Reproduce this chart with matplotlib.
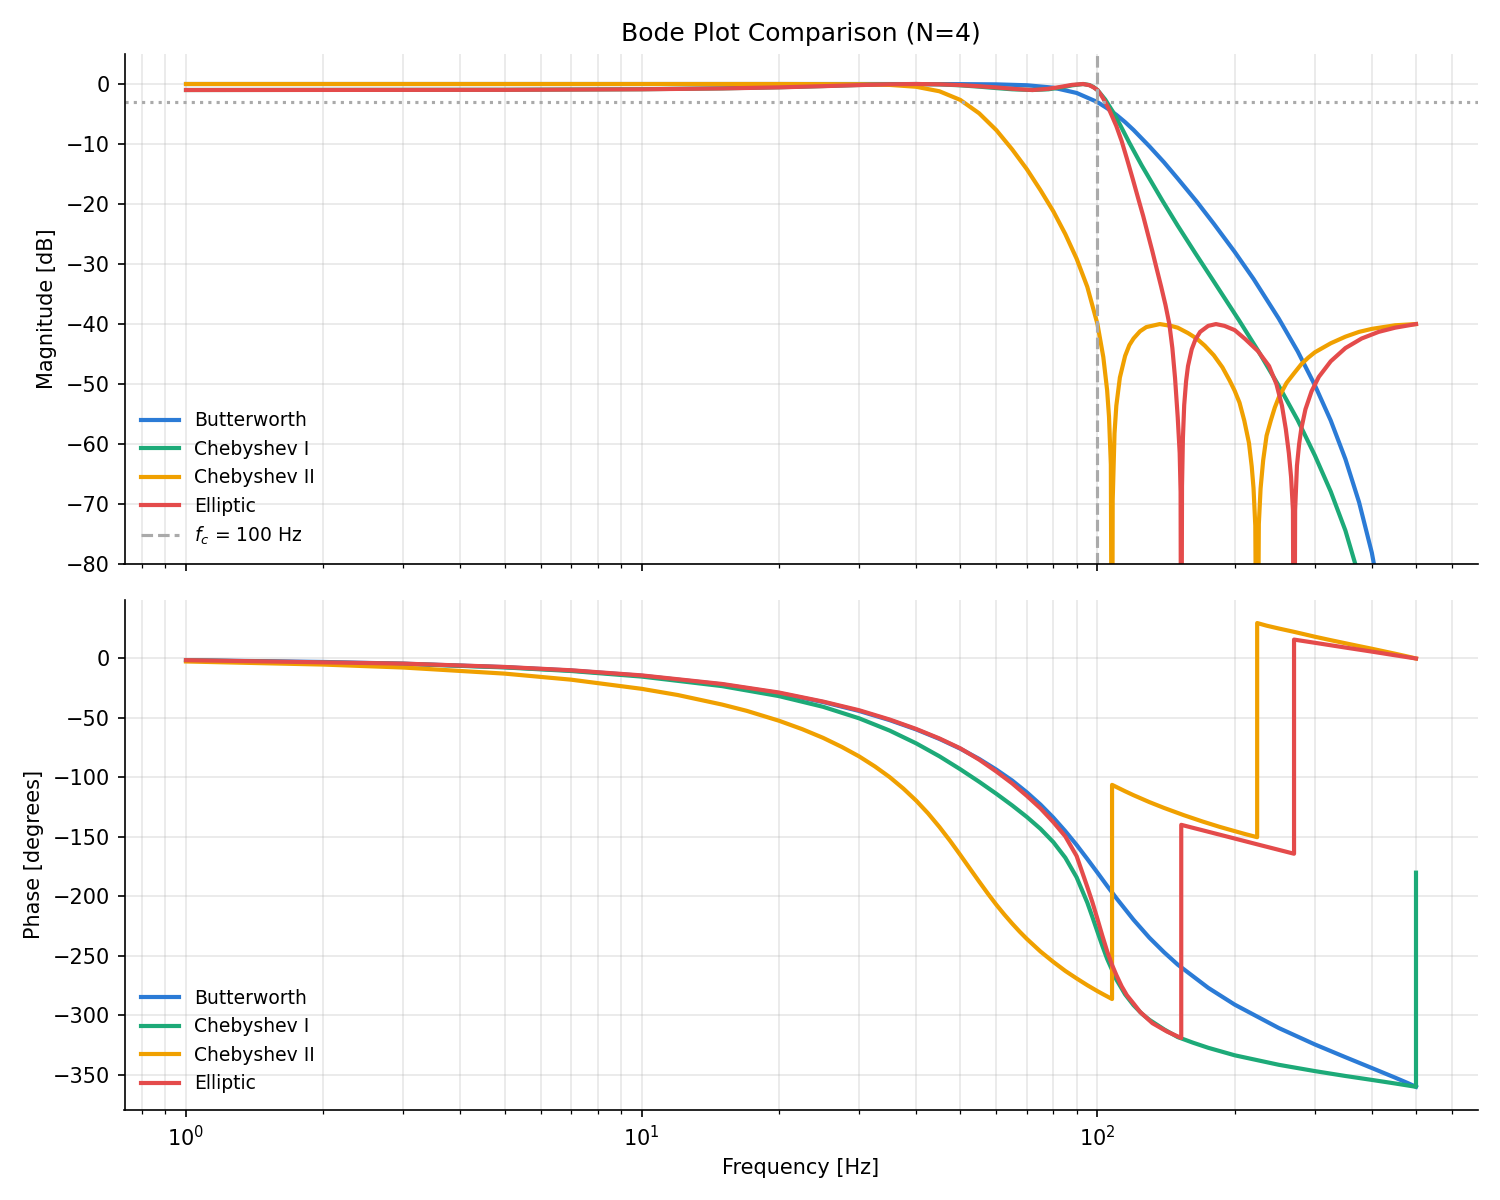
import numpy as np
import matplotlib
matplotlib.use("Agg")
import matplotlib.pyplot as plt

# magnitude curves [Hz], [dB]
f_butter_mag = [1, 10, 30, 50, 60, 70, 80, 90, 100, 105, 110, 115, 120, 130, 140, 150, 165, 180,
                200, 220, 250, 275, 300, 325, 350, 375, 400, 410]
butter_mag = [0, 0, 0, -0.02, -0.06, -0.21, -0.61, -1.49, -3.01, -4.04, -5.13, -6.35, -7.66, -10.38,
              -13.05, -15.75, -19.56, -23.28, -27.96, -32.47, -39.1, -44.54, -50.2, -56.07, -62.5,
              -69.68, -78.1, -82.5]

f_cheb1_mag = [1, 5, 10, 15, 20, 25, 30, 35, 40, 45, 50, 55, 60, 65, 72, 78, 83, 88, 93, 96, 98, 100,
               104, 108, 112, 117.5, 125, 139, 150, 164, 180, 204.6, 225, 250, 275, 300, 325, 350, 370]
cheb1_mag = [-1.0, -0.96, -0.87, -0.72, -0.54, -0.34, -0.16, -0.04, 0, -0.06, -0.22, -0.44, -0.68,
             -0.88, -1.0, -0.88, -0.6, -0.22, 0, -0.17, -0.5, -1.0, -2.59, -4.57, -6.74, -9.8, -13.54,
             -19.5, -23.6, -28.2, -32.9, -39.4, -44.4, -50.3, -56.0, -61.9, -67.9, -74.4, -80.6]

f_cheb2_mag = [1, 10, 20, 30, 35, 40, 45, 50, 55, 60, 65, 70, 75, 80, 85, 90, 95, 100, 103, 105, 106,
               107, 107.65, 108, 109, 110, 112, 115, 117.5, 120, 124, 128, 137, 145, 150, 158, 165,
               172, 180, 188, 195, 200, 205, 210, 215, 218, 220, 222, 224.1, 226, 228, 231, 235, 240,
               245, 250, 260, 270, 280, 290, 300, 325, 350, 375, 400, 450, 500]
cheb2_mag = [0, 0, 0, -0.04, -0.15, -0.46, -1.21, -2.65, -4.88, -7.69, -10.9, -14.2, -17.7, -21.2,
             -25.0, -29.1, -33.8, -40.0, -45.5, -51.0, -55.4, -63.4, -120, -69.4, -58.2, -53.6, -48.9,
             -45.3, -43.5, -42.4, -41.2, -40.5, -40.0, -40.3, -40.6, -41.5, -42.4, -43.6, -45.2,
             -47.2, -49.4, -51.1, -53.1, -56.1, -59.8, -63.7, -67.3, -73.6, -120, -73.3, -67.4,
             -62.7, -58.6, -56.1, -53.9, -52.2, -49.8, -48.2, -46.7, -45.6, -44.7, -43.2, -42.1,
             -41.3, -40.8, -40.2, -40.0]

f_ellip_mag = [1, 5, 10, 15, 20, 25, 30, 35, 40, 45, 50, 55, 60, 66, 72, 78, 83, 88, 93, 96, 98, 100,
               102, 104, 106, 108, 110, 113, 116, 119.5, 123, 126, 129, 132, 135, 138, 141, 143.8,
               146, 148, 150, 151.5, 152.2, 152.7, 153.3, 154, 155, 156.5, 158, 161, 164, 168, 175,
               182, 190, 200, 211, 225, 238, 247, 254, 259, 263, 266, 268.5, 270, 271.5, 274, 277,
               280, 286, 295, 306, 325, 350, 380, 414, 450, 500]
ellip_mag = [-1.0, -0.97, -0.88, -0.74, -0.56, -0.36, -0.18, -0.05, 0, -0.05, -0.18, -0.37, -0.57,
             -0.83, -1.0, -0.8, -0.48, -0.14, 0, -0.2, -0.55, -1.0, -1.9, -3.0, -4.2, -5.6, -7.0,
             -9.5, -12.4, -15.8, -19.2, -22.0, -25.0, -27.9, -30.9, -33.8, -36.8, -40.0, -44.0, -49.0,
             -55.5, -61.5, -68.0, -120, -67.0, -59.0, -53.5, -49.5, -47.0, -44.2, -42.6, -41.3,
             -40.3, -40.0, -40.3, -41.0, -42.5, -44.5, -47.0, -50.0, -53.6, -57.5, -61.5, -65.5,
             -71.0, -120, -71.0, -63.6, -60.0, -57.5, -54.2, -51.2, -48.8, -46.2, -44.0, -42.4,
             -41.3, -40.6, -40.0]

# phase curves [Hz], [degrees]
f_butter_ph = [1, 2, 3, 5, 7, 10, 15, 20, 25, 30, 35, 40, 45, 50, 55, 60, 65, 70, 75, 80, 85, 90, 95,
               100, 105, 110, 120, 130, 140, 150, 175, 200, 250, 300, 350, 400, 450, 480, 500]
butter_ph = [-1.45, -2.9, -4.34, -7.24, -10.1, -14.5, -21.8, -29.1, -36.6, -44.1, -51.8, -59.6, -67.6,
             -75.8, -84.4, -93.4, -102.6, -112.5, -122.8, -133.7, -145.1, -156.7, -168.5, -180.0,
             -191.1, -201.4, -219.6, -234.7, -246.9, -257.3, -276.8, -290.9, -310.6, -324.4, -335.1,
             -344.2, -352.3, -356.9, -360.0]

f_cheb1_ph = [1, 3, 5, 7, 10, 15, 20, 25, 30, 35, 40, 45, 50, 55, 60, 65, 70, 75, 80, 85, 90, 95, 97.5,
              100, 102.5, 105, 110, 115, 120, 125, 130, 140, 150, 162, 175, 200, 250, 300, 350, 400,
              450, 480, 500, 500]
cheb1_ph = [-1.5, -4.5, -7.5, -10.5, -15.2, -23.2, -31.6, -40.6, -50.3, -60.6, -71.3, -82.2, -93.1,
            -103.6, -113.7, -123.5, -133.2, -143.2, -154.3, -167.4, -183.9, -205.2, -217.4, -229.7,
            -241.5, -252.4, -269.8, -282.3, -291.4, -298.4, -303.7, -311.7, -318.2, -322.9, -327.2,
            -333.5, -341.5, -346.8, -350.9, -354.2, -357.2, -358.9, -360.0, -180.0]

f_cheb2_ph = [1, 2, 3, 5, 7, 10, 12, 15, 17, 20, 22.5, 25, 27.5, 30, 32.5, 35, 37.5, 40, 42.5, 45,
              47.5, 50, 52.5, 55, 57.5, 60, 62.5, 65, 67.5, 70, 75, 80, 85, 90, 95, 100, 103, 107.65,
              107.65, 115, 120, 130, 140, 155, 170, 185, 200, 212, 224.1, 224.1, 235, 250, 270, 300,
              325, 350, 375, 400, 450, 480, 500]
cheb2_ph = [-2.5, -5.1, -7.6, -12.7, -17.8, -25.5, -30.7, -38.7, -44.0, -52.3, -59.4, -66.7, -74.4,
            -82.3, -90.8, -99.7, -109.3, -119.4, -130.2, -141.6, -153.3, -165.1, -176.6, -187.5,
            -197.7, -207.0, -215.3, -222.8, -229.6, -235.7, -246.3, -255.0, -262.6, -268.9, -274.6,
            -279.6, -282.3, -286.2, -106.2, -111.6, -114.9, -120.7, -125.6, -131.8, -137.0, -141.4,
            -145.1, -147.8, -150.2, 29.8, 27.6, 25.2, 22.4, 18.3, 15.4, 12.8, 10.4, 8.2, 4.0, 1.6,
            0.0]

f_ellip_ph = [1, 3, 5, 7, 10, 15, 20, 25, 30, 35, 40, 45, 50, 55, 60, 65, 70, 75, 80, 85, 90, 95, 97.5,
              100, 102.5, 105, 107.5, 110, 113, 116, 120, 124, 132, 142, 152.7, 152.7, 175, 200, 230,
              270, 270, 300, 350, 400, 450, 500]
ellip_ph = [-1.4, -4.3, -7.1, -9.9, -14.2, -21.4, -28.6, -36.2, -43.5, -51.3, -59.2, -67.2, -75.5,
            -85.0, -95.0, -105.0, -115.5, -126.0, -137.5, -149.5, -166.0, -192.0, -205.0, -219.0,
            -233.0, -246.0, -257.0, -266.0, -275.5, -283.0, -290.0, -297.0, -306.5, -313.5, -319.0,
            -139.8, -145.6, -151.3, -157.3, -164.1, 15.9, 13.2, 9.2, 5.8, 2.7, 0.0]

names = ['Butterworth', 'Chebyshev I', 'Chebyshev II', 'Elliptic']
colors = ['#2b7bd6', '#1daa78', '#f0a000', '#e44b4b']
fc = 100

fig, (ax1, ax2) = plt.subplots(2, 1, figsize=(10, 8), dpi=150, sharex=True)
fig.subplots_adjust(left=0.083, right=0.985, top=0.955, bottom=0.075, hspace=0.07)

mags = [(f_butter_mag, butter_mag), (f_cheb1_mag, cheb1_mag), (f_cheb2_mag, cheb2_mag),
        (f_ellip_mag, ellip_mag)]
phases = [(f_butter_ph, butter_ph), (f_cheb1_ph, cheb1_ph), (f_cheb2_ph, cheb2_ph),
          (f_ellip_ph, ellip_ph)]

for (f, m), name, c in zip(mags, names, colors):
    ax1.semilogx(f, m, color=c, lw=2, label=name)
ax1.axvline(fc, color='#aaaaaa', ls='--', lw=1.5, label='$f_c$ = %d Hz' % fc)
ax1.axhline(-3, color='#aaaaaa', ls=':', lw=1.5)
ax1.set_ylim(-80, 5)
ax1.set_ylabel('Magnitude [dB]')
ax1.set_title('Bode Plot Comparison (N=4)', fontsize=12)
ax1.legend(loc='lower left', frameon=False, fontsize=9)

for (f, p), name, c in zip(phases, names, colors):
    ax2.semilogx(f, p, color=c, lw=2, label=name)
ax2.set_ylabel('Phase [degrees]')
ax2.set_xlabel('Frequency [Hz]')
ax2.legend(loc='lower left', frameon=False, fontsize=9)

for ax in (ax1, ax2):
    ax.grid(True, which='both', alpha=0.3)
    ax.spines['top'].set_visible(False)
    ax.spines['right'].set_visible(False)

fig.savefig('out.png', dpi=150)
